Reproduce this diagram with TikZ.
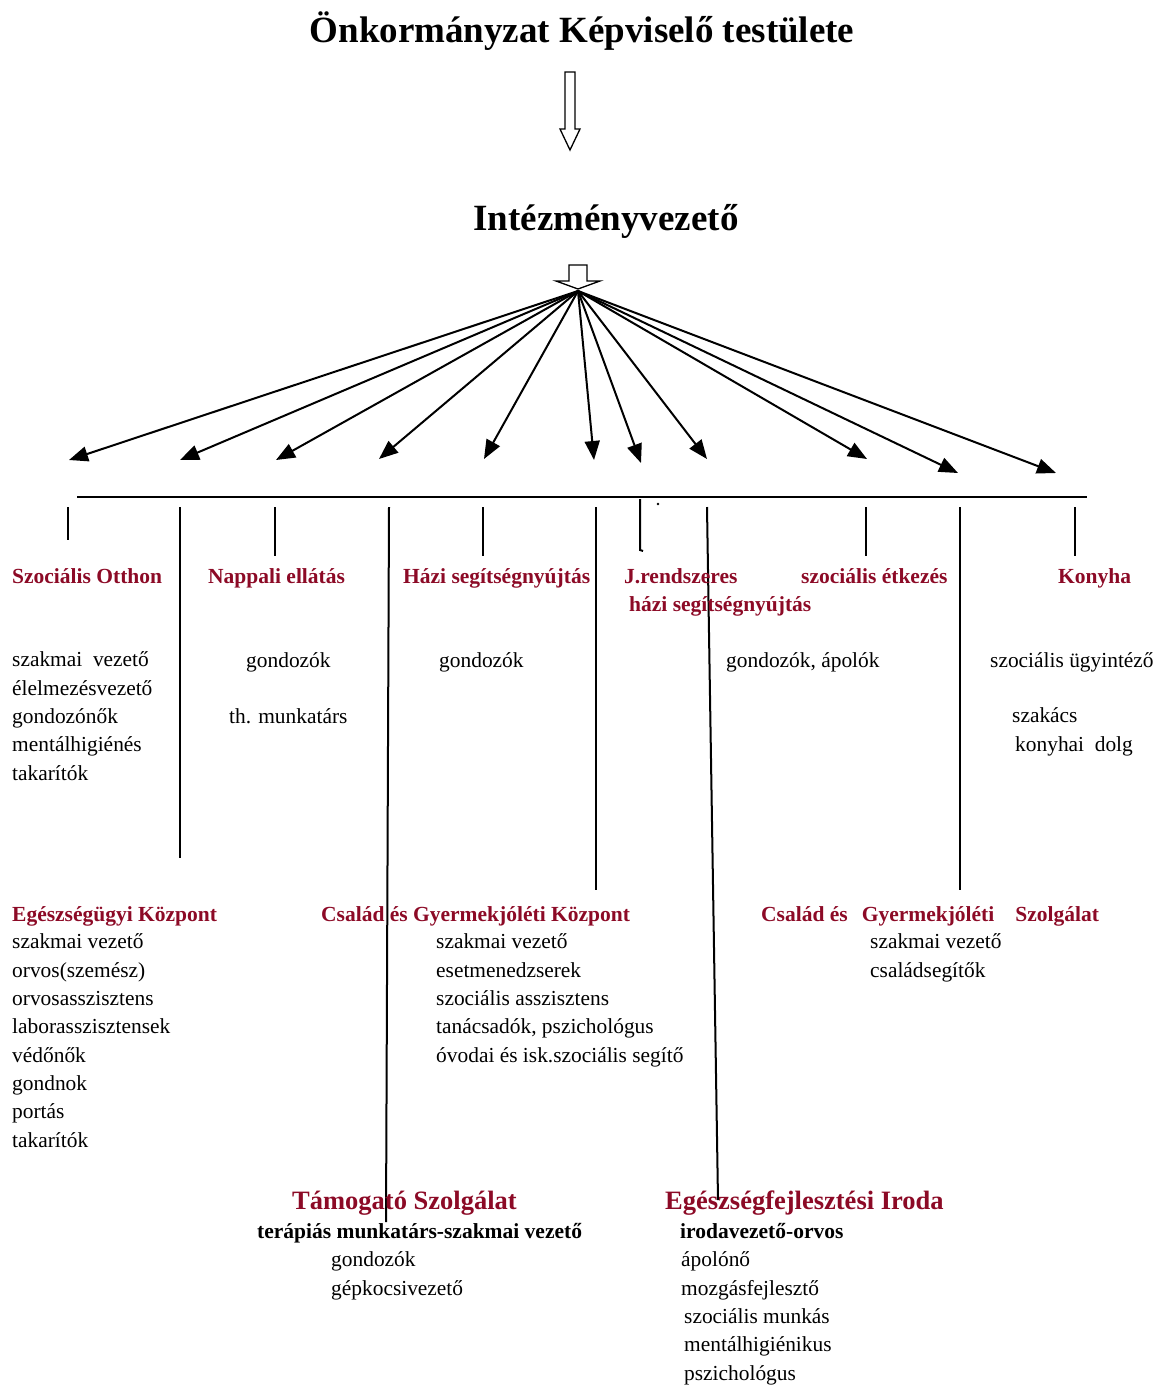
\documentclass[tikz,border=0pt]{standalone}
\usepackage{fontspec}
\setmainfont{Liberation Serif}
\usetikzlibrary{arrows.meta}
\definecolor{unitred}{RGB}{140,10,38}

\begin{document}
\begin{tikzpicture}[
		x=1pt, y=-1pt,
		>=Stealth,
		% Text styles (multi-line nodes sit on their last baseline)
		title/.style={
			anchor=base, inner sep=0pt,
			font=\fontsize{37}{40}\selectfont\bfseries
		},
		unit/.style={
			anchor=base west, inner sep=0pt, align=left,
			text=unitred, font=\fontsize{21.5}{28}\selectfont\bfseries
		},
		bigunit/.style={
			unit, font=\fontsize{26.5}{30}\selectfont\bfseries
		},
		staff/.style={
			anchor=base west, inner sep=0pt, align=left,
			font=\fontsize{21.4}{28.3}\selectfont
		},
		boss/.style={
			staff, font=\fontsize{21.5}{28}\selectfont\bfseries
		},
		% Line styles
		fan/.style={-{Triangle[length=19pt,width=15pt]}, line width=2pt},
		hollow/.style={draw, line width=1.3pt, line join=miter},
		bar/.style={line width=2.2pt},
		drop/.style={line width=2pt}
	]
	\useasboundingbox (0,0) rectangle (1163,1387);

	% Top of the hierarchy
	\node[title] (board) at (582,42) {Önkormányzat Képviselő testülete};
	\node[title] (head) at (606,230) {Intézményvezető};

	% Hollow arrows
	\draw[hollow] (565,72) -- (575,72) -- (575,129) -- (580,129)
		-- (570,150) -- (560,129) -- (565,129) -- cycle;
	\draw[hollow] (569,265) -- (587,265) -- (587,281) -- (600,281)
		-- (578,289) -- (556,281) -- (569,281) -- cycle;

	% Fan of arrows
	\coordinate (hub) at (578,291);
	\foreach \i/\x/\y in {1/69/460, 2/180/460, 3/276/460, 4/379/459,
		5/484/459, 6/594/460, 7/641/463, 8/707/459, 9/867/459,
		10/958/473, 11/1056/473}{
		\coordinate (tip\i) at (\x,\y);
		\draw[fan] (hub) -- (tip\i);
	}

	% Bar and drops
	\coordinate (bar-w) at (77,497);
	\coordinate (bar-e) at (1087,497);
	\draw[bar] (bar-w) -- (bar-e);

	\foreach \i/\x/\y in {1/68/540, 2/180/858, 3/275/556, 4/483/556,
		5/596/890, 6/866/556, 7/960/890, 8/1075/556}{
		\coordinate (drop-top\i) at (\x,507);
		\coordinate (drop-end\i) at (\x,\y);
		\draw[drop] (drop-top\i) -- (drop-end\i);
	}
	\coordinate (long-top1) at (389,507);
	\coordinate (long-end1) at (386,1222);
	\draw[drop] (long-top1) -- (long-end1);
	\coordinate (long-top2) at (707,507);
	\coordinate (long-end2) at (718,1200);
	\draw[drop] (long-top2) -- (long-end2);
	\coordinate (jr-top) at (640,499);
	\coordinate (jr-end) at (640,550);
	\draw[drop] (jr-top) -- (jr-end) -- ++(3,1);
	\fill (658,504) circle (1.3);

	% First row of units
	\node[unit] (so) at (12,583) {Szociális Otthon};
	\node[unit] (ne) at (208,583) {Nappali ellátás};
	\node[unit] (hs) at (403,583) {Házi segítségnyújtás};
	\node[unit] (jr) at (624,611) {J.rendszeres\\\hspace*{5pt}házi segítségnyújtás};
	\node[unit] (se) at (801,583) {szociális étkezés};
	\node[unit] (ko) at (1058,583) {Konyha};

	\node[staff] (so-staff) at (12,780)
		{szakmai\ \ vezető\\élelmezésvezető\\gondozónők\\mentálhigiénés\\takarítók};
	\node[staff] (ne-staff1) at (246,667) {gondozók};
	\node[staff] (ne-staff2) at (229,723) {th. munkatárs};
	\node[staff] (hs-staff) at (439,667) {gondozók};
	\node[staff] (jr-staff) at (726,667) {gondozók, ápolók};
	\node[staff] (ko-staff1) at (990,667) {szociális ügyintéző};
	\node[staff] (ko-staff2) at (1012,751) {szakács\\\hspace*{3pt}konyhai\ \ dolg};

	% Second row of units
	\node[unit] (ek) at (12,921) {Egészségügyi Központ};
	\node[staff] (ek-staff) at (12,1147)
		{szakmai vezető\\orvos(szemész)\\orvosasszisztens\\laborasszisztensek\\védőnők\\gondnok\\portás\\takarítók};
	\node[unit] (cgk) at (321,921) {Család és Gyermekjóléti Központ};
	\node[staff] (cgk-staff) at (436,1062)
		{szakmai vezető\\esetmenedzserek\\szociális asszisztens\\tanácsadók, pszichológus\\óvodai és isk.szociális segítő};
	\node[unit] (cgs) at (761,921)
		{Család és\hspace*{14pt}Gyermekjóléti\hspace*{21pt}Szolgálat};
	\node[staff] (cgs-staff) at (870,977) {szakmai vezető\\családsegítők};

	% Third row of units
	\node[bigunit] (tsz) at (292,1209) {Támogató Szolgálat};
	\node[boss] (tsz-boss) at (257,1238) {terápiás munkatárs-szakmai vezető};
	\node[staff] (tsz-staff) at (331,1295) {gondozók\\gépkocsivezető};
	\node[bigunit] (efi) at (665,1209) {Egészségfejlesztési Iroda};
	\node[boss] (efi-boss) at (680,1238) {irodavezető-orvos};
	\node[staff] (efi-staff) at (681,1380)
		{ápolónő\\mozgásfejlesztő\\\hspace*{3pt}szociális munkás\\\hspace*{3pt}mentálhigiénikus\\\hspace*{3pt}pszichológus};

\end{tikzpicture}
\end{document}
